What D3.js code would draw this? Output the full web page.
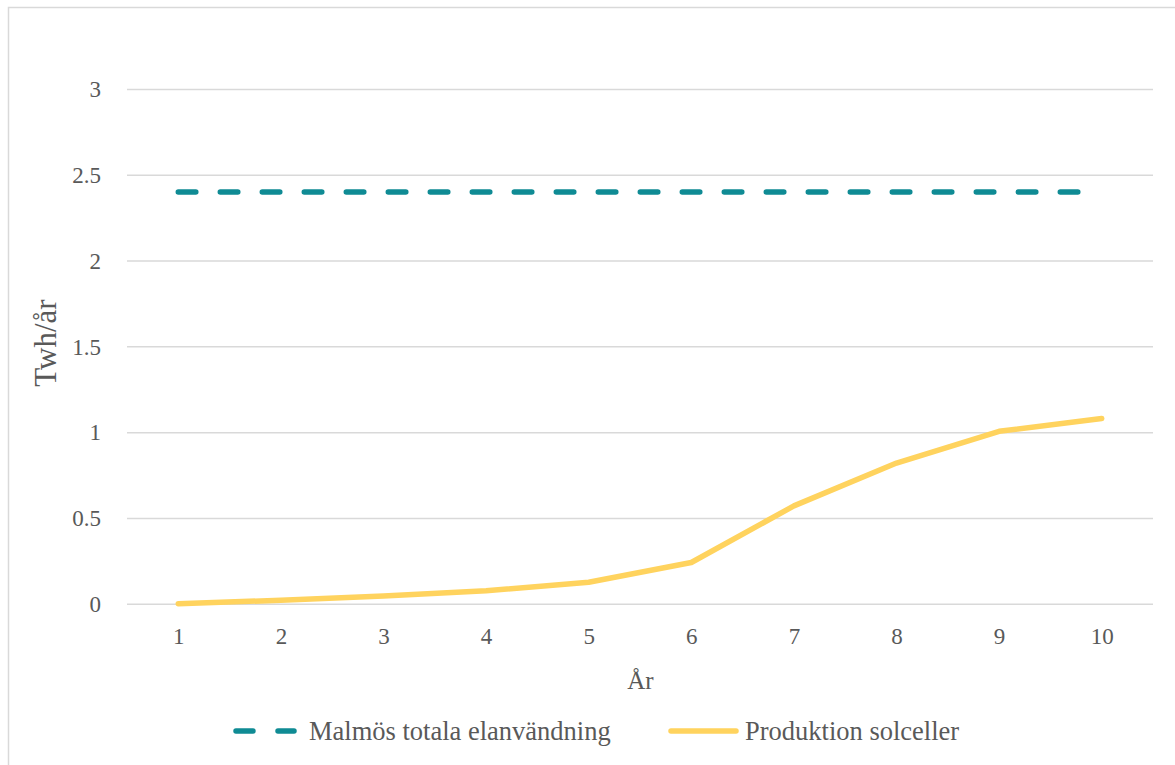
<!DOCTYPE html>
<html>
<head>
<meta charset="utf-8">
<script src="https://cdn.jsdelivr.net/npm/d3@7"></script>
<style>
  html, body { margin: 0; padding: 0; background: #fff; }
  svg { display: block; }
  text { font-family: "Palatino Linotype", "Book Antiqua", Palatino, "Liberation Serif", serif; fill: #595959; }
</style>
</head>
<body>
<svg id="chart" width="1175" height="765"></svg>
<script>
// Years on the x axis
const years = [1, 2, 3, 4, 5, 6, 7, 8, 9, 10];
// Malmö's total electricity use, TWh/year
const totalUse = [2.4, 2.4, 2.4, 2.4, 2.4, 2.4, 2.4, 2.4, 2.4, 2.4];
// Solar cell production, TWh/year
const solarProduction = [0, 0.02, 0.045, 0.075, 0.125, 0.24, 0.57, 0.82, 1.005, 1.08];
// Y axis ticks
const yTicks = [0, 0.5, 1, 1.5, 2, 2.5, 3];
const yTickLabels = ["0", "0.5", "1", "1.5", "2", "2.5", "3"];
const seriesNames = ["Malmös totala elanvändning", "Produktion solceller"];
const xTitle = "År";
const yTitle = "Twh/år";

const svg = d3.select("#chart");
const W = 1175, H = 765;
const plot = { left: 127, right: 1153, top: 89, bottom: 603.7 };

const teal = "#0f8b94";
const gold = "#ffd35e";
const grid = "#d9d9d9";

// chart frame
svg.append("path")
  .attr("d", `M8.5,${H + 2} V7.5 H${W + 2}`)
  .attr("fill", "none")
  .attr("stroke", grid)
  .attr("stroke-width", 1.5);

const x = d3.scalePoint().domain(years).range([plot.left, plot.right]).padding(0.5);
const y = d3.scaleLinear().domain([0, 3]).range([plot.bottom, plot.top]);

// horizontal gridlines
const yAxis = d3.axisLeft(y)
  .tickValues(yTicks)
  .tickSize(-(plot.right - plot.left))
  .tickPadding(26)
  .tickFormat((d, i) => yTickLabels[i]);

const gy = svg.append("g")
  .attr("transform", `translate(${plot.left},0)`)
  .call(yAxis);
gy.select(".domain").remove();
gy.selectAll(".tick line").attr("stroke", grid).attr("stroke-width", 1.5);
gy.selectAll(".tick text")
  .attr("font-size", 23)
  .attr("fill", "#595959")
  .attr("dy", "0.34em");

// x axis labels
const xAxis = d3.axisBottom(x).tickSize(0).tickPadding(24).tickFormat(d => String(d));
const gx = svg.append("g")
  .attr("transform", `translate(0,${plot.bottom})`)
  .call(xAxis);
gx.select(".domain").remove();
gx.selectAll(".tick text")
  .attr("font-size", 23)
  .attr("fill", "#595959");

// axis titles
svg.append("text")
  .attr("x", (plot.left + plot.right) / 2 + 0.5)
  .attr("y", 689)
  .attr("text-anchor", "middle")
  .attr("font-size", 25)
  .text(xTitle);

svg.append("text")
  .attr("transform", `translate(56,343) rotate(-90)`)
  .attr("text-anchor", "middle")
  .attr("font-size", 31)
  .text(yTitle);

const line = d3.line()
  .x((d, i) => x(years[i]))
  .y(d => y(d));

// total electricity use (dashed)
svg.append("path")
  .datum(totalUse)
  .attr("d", line)
  .attr("fill", "none")
  .attr("stroke", teal)
  .attr("stroke-width", 5.5)
  .attr("stroke-linecap", "round")
  .attr("stroke-dasharray", "17.5,24.5");

// solar production
svg.append("path")
  .datum(solarProduction)
  .attr("d", line)
  .attr("fill", "none")
  .attr("stroke", gold)
  .attr("stroke-width", 5.5)
  .attr("stroke-linecap", "round")
  .attr("stroke-linejoin", "round");

// legend
const legY = 731;
const leg = svg.append("g");
leg.append("line")
  .attr("x1", 236).attr("x2", 294).attr("y1", legY).attr("y2", legY)
  .attr("stroke", teal).attr("stroke-width", 5.5)
  .attr("stroke-linecap", "round")
  .attr("stroke-dasharray", "17,25");
leg.append("text")
  .attr("x", 309).attr("y", legY).attr("dy", "0.34em")
  .attr("font-size", 26.5)
  .text(seriesNames[0]);

leg.append("line")
  .attr("x1", 671).attr("x2", 736).attr("y1", legY).attr("y2", legY)
  .attr("stroke", gold).attr("stroke-width", 5.5)
  .attr("stroke-linecap", "round");
leg.append("text")
  .attr("x", 745).attr("y", legY).attr("dy", "0.34em")
  .attr("font-size", 26.5)
  .text(seriesNames[1]);
</script>
</body>
</html>
